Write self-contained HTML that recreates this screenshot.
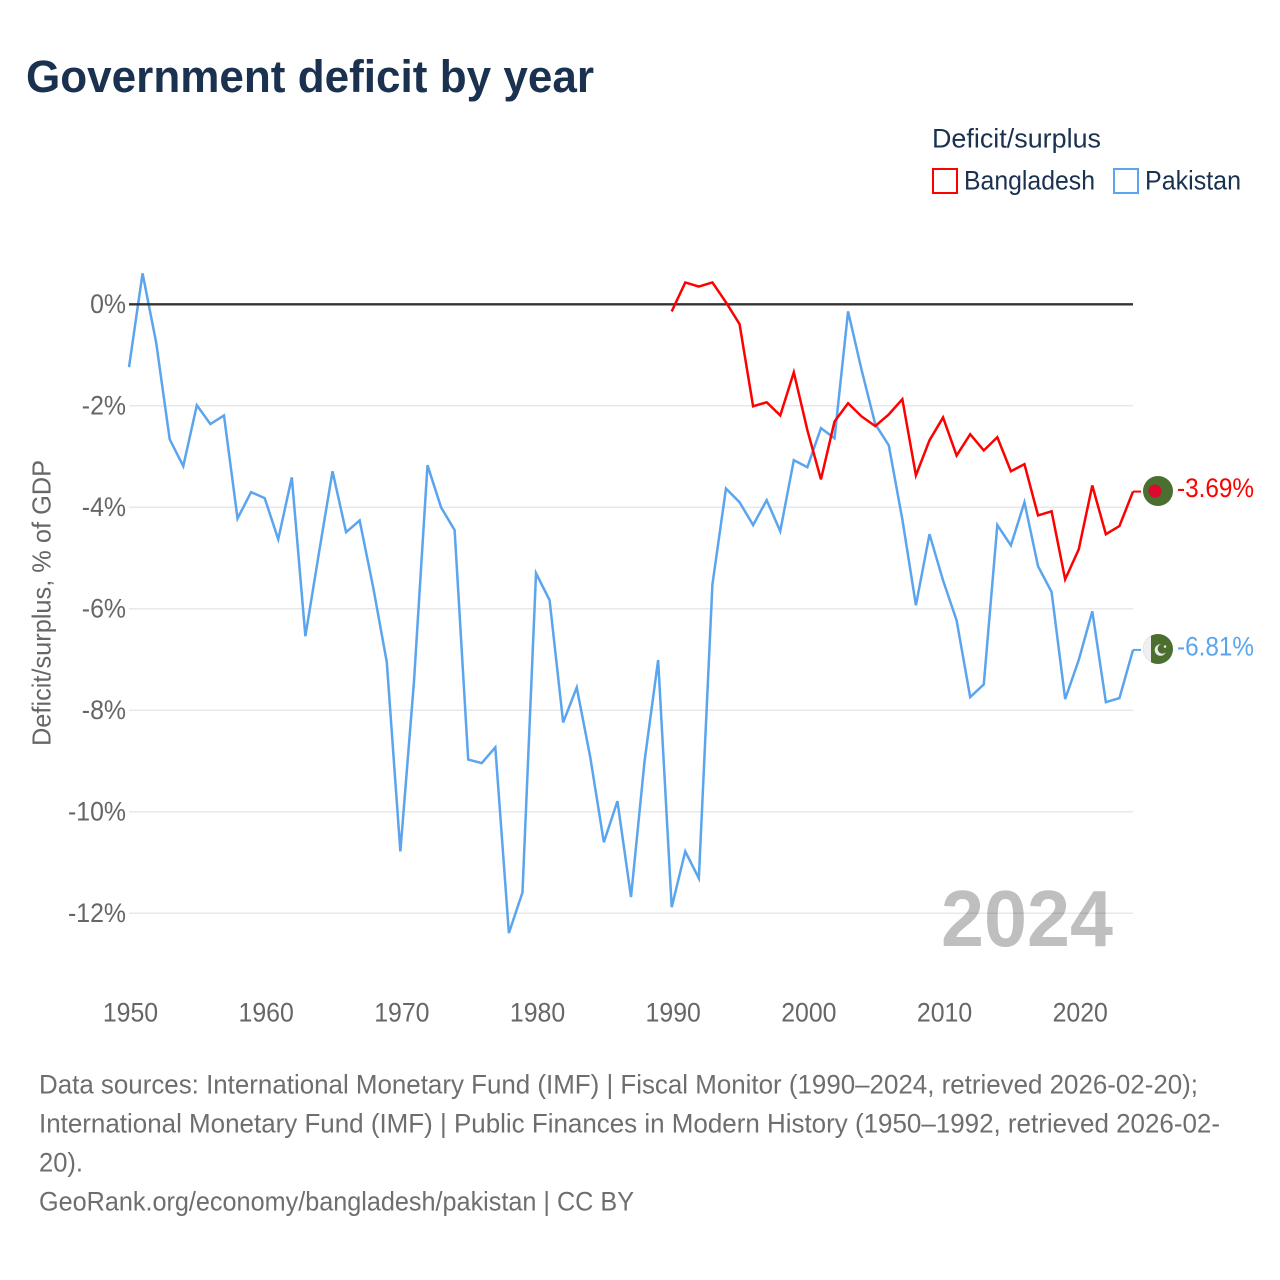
<!DOCTYPE html>
<html lang="en">
<head>
<meta charset="utf-8">
<title>Government deficit by year</title>
<style>
html,body{margin:0;padding:0;background:#fff;width:1280px;height:1280px;overflow:hidden}
svg{display:block}
text{font-family:"Liberation Sans",sans-serif}
</style>
</head>
<body>
<svg id="chart" xmlns="http://www.w3.org/2000/svg" width="1280" height="1280" viewBox="0 0 1280 1280">
  <rect x="0" y="0" width="1280" height="1280" fill="#fff"/>
  <text x="26" y="92" font-size="45" font-weight="700" fill="#1a3150" textLength="568" lengthAdjust="spacingAndGlyphs">Government deficit by year</text>

  <text x="932" y="147.5" font-size="27" fill="#1a3150" textLength="169" lengthAdjust="spacingAndGlyphs">Deficit/surplus</text>
  <rect x="933" y="169" width="24" height="24" fill="#fff" stroke="#ff0000" stroke-width="2"/>
  <text x="964" y="189.5" font-size="27" fill="#1a3150" textLength="131" lengthAdjust="spacingAndGlyphs">Bangladesh</text>
  <rect x="1114" y="169" width="24" height="24" fill="#fff" stroke="#5ba4ee" stroke-width="2"/>
  <text x="1145" y="189.5" font-size="27" fill="#1a3150" textLength="96" lengthAdjust="spacingAndGlyphs">Pakistan</text>

  <g id="grid"></g>
  <g id="yticks"></g>
  <g id="xticks"></g>
  <text transform="translate(50.5 603) rotate(-90)" text-anchor="middle" font-size="26" fill="#666" textLength="286" lengthAdjust="spacingAndGlyphs">Deficit/surplus, % of GDP</text>

  <text x="941" y="946" font-size="80" font-weight="700" fill="#000" fill-opacity="0.25" textLength="172" lengthAdjust="spacingAndGlyphs">2024</text>

  <g id="series"></g>

  <g>
    <circle cx="1158" cy="491" r="15" fill="#4b6f2f"/>
    <circle cx="1155" cy="491" r="6.5" fill="#dc0a2d"/>
  </g>
  <g>
    <clipPath id="pk-clip"><circle cx="1158" cy="649" r="15"/></clipPath>
    <g clip-path="url(#pk-clip)">
      <rect x="1143" y="634" width="30" height="30" fill="#4b6f2f"/>
      <rect x="1143" y="634" width="8" height="30" fill="#efefef"/>
    </g>
    <circle cx="1160.5" cy="650" r="5.8" fill="#e8e8e8"/>
    <circle cx="1162.5" cy="648.8" r="4.8" fill="#4b6f2f"/>
    <circle cx="1165" cy="646.5" r="1.3" fill="#e8e8e8"/>
  </g>

  <text x="1177" y="497" font-size="27" fill="#ff0000" textLength="77" lengthAdjust="spacingAndGlyphs">-3.69%</text>
  <text x="1177" y="655.7" font-size="27" fill="#5ba4ee" textLength="77" lengthAdjust="spacingAndGlyphs">-6.81%</text>

  <g font-size="27" fill="#6e6e6e">
    <text x="39" y="1093.5" textLength="1159" lengthAdjust="spacingAndGlyphs">Data sources: International Monetary Fund (IMF) | Fiscal Monitor (1990–2024, retrieved 2026-02-20);</text>
    <text x="39" y="1132.5" textLength="1181" lengthAdjust="spacingAndGlyphs">International Monetary Fund (IMF) | Public Finances in Modern History (1950–1992, retrieved 2026-02-</text>
    <text x="39" y="1171.5" textLength="44" lengthAdjust="spacingAndGlyphs">20).</text>
    <text x="39" y="1210.5" textLength="595" lengthAdjust="spacingAndGlyphs">GeoRank.org/economy/bangladesh/pakistan | CC BY</text>
  </g>
</svg>
<script>
const yTickValues = [0, -2, -4, -6, -8, -10, -12];
const xTickYears = [1950, 1960, 1970, 1980, 1990, 2000, 2010, 2020];
const pakistanStartYear = 1950;
const pakistanValues = [
  -1.24, 0.61, -0.75, -2.66, -3.19, -1.99, -2.36, -2.19, -4.22, -3.70,
  -3.82, -4.63, -3.41, -6.54, -4.90, -3.29, -4.49, -4.26, -5.58, -7.05,
  -10.78, -7.45, -3.17, -4.00, -4.45, -8.97, -9.04, -8.73, -12.39, -11.59,
  -5.30, -5.83, -8.24, -7.55, -8.93, -10.60, -9.79, -11.68, -9.00, -7.01,
  -11.88, -10.78, -11.31, -5.52, -3.63, -3.90, -4.35, -3.86, -4.47, -3.07,
  -3.21, -2.44, -2.64, -0.14, -1.30, -2.36, -2.78, -4.24, -5.93, -4.53,
  -5.44, -6.23, -7.74, -7.49, -4.35, -4.75, -3.90, -5.16, -5.67, -7.78,
  -7.01, -6.05, -7.84, -7.76, -6.81
];
const bangladeshStartYear = 1990;
const bangladeshValues = [
  -0.14, 0.43, 0.35, 0.43, 0.04, -0.39, -2.01, -1.93, -2.19, -1.34,
  -2.48, -3.45, -2.31, -1.95, -2.21, -2.40, -2.17, -1.87, -3.37, -2.68,
  -2.23, -2.98, -2.56, -2.88, -2.62, -3.29, -3.15, -4.16, -4.08, -5.42,
  -4.83, -3.57, -4.53, -4.37, -3.69
];

const NS = 'http://www.w3.org/2000/svg';
const xScale = year => 129 + (year - 1950) * (1133 - 129) / 74;
const yScale = value => 304.3 - value * 50.75;

function make(tag, attrs, parent) {
  const el = document.createElementNS(NS, tag);
  for (const k in attrs) el.setAttribute(k, attrs[k]);
  parent.appendChild(el);
  return el;
}

const gridGroup = document.getElementById('grid');
const yTickGroup = document.getElementById('yticks');
const xTickGroup = document.getElementById('xticks');
const seriesGroup = document.getElementById('series');

yTickValues.filter(v => v !== 0).forEach(v => {
  const line = make('line', {x1: 129, x2: 1133, y1: yScale(v), y2: yScale(v), stroke: '#e8e8e8', 'stroke-width': 1.5}, gridGroup);
  
  
});

function condense(label) {
  label.setAttribute('textLength', (label.getComputedTextLength() * 0.92).toFixed(1));
  label.setAttribute('lengthAdjust', 'spacingAndGlyphs');
}

yTickValues.forEach(v => {
  const label = make('text', {x: 126, y: yScale(v) + 8.8, 'text-anchor': 'end', 'font-size': 27, fill: '#666'}, yTickGroup);
  
  
  label.textContent = v + '%';
  condense(label);
});

xTickYears.forEach(y => {
  const label = make('text', {x: xScale(y) + 1.5, y: 1021.5, 'text-anchor': 'middle', 'font-size': 27, fill: '#666'}, xTickGroup);
  
  
  label.textContent = y;
  condense(label);
});

function drawSeries(values, startYear, color, name) {
  const points = values.map((v, i) => xScale(startYear + i).toFixed(2) + ',' + yScale(v).toFixed(2)).join(' ');
  const line = make('polyline', {points: points, fill: 'none', stroke: color, 'stroke-width': 2.5, 'stroke-linejoin': 'miter'}, seriesGroup);
  
  
  const last = values[values.length - 1];
  const lastYear = startYear + values.length - 1;
  const connector = make('line', {x1: xScale(lastYear), x2: xScale(lastYear) + 8, y1: yScale(last), y2: yScale(last), stroke: color, 'stroke-width': 2}, seriesGroup);
  
  
}

drawSeries(pakistanValues, pakistanStartYear, '#5ba4ee', 'line-pakistan');

const zeroLine = make('line', {x1: 129, x2: 1133, y1: yScale(0), y2: yScale(0), stroke: '#333', 'stroke-width': 2.4}, seriesGroup);



drawSeries(bangladeshValues, bangladeshStartYear, '#ff0000', 'line-bangladesh');
</script>
</body>
</html>
